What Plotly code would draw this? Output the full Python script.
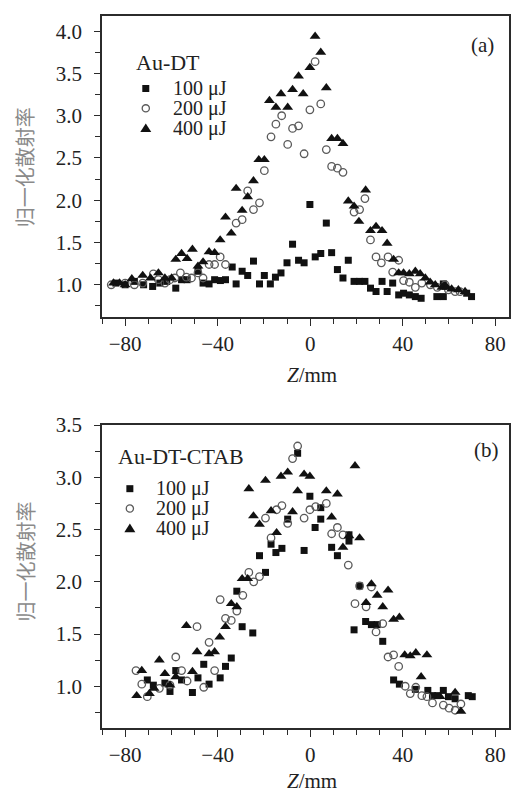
import plotly.graph_objects as go

# ---------------- Panel (a): Au-DT ----------------
a_x_100 = [-84, -80, -76, -72, -68.1, -65, -62, -58.1, -55.6, -53.2, -48.5, -46.3, -43.7, -41.3, -38.8,
           -36.6, -33.7, -32.0, -29.4, -27.0, -24.5, -21.9, -19.8, -17.2, -15.0, -12.6, -10.0, -7.6, -5.0,
           -2.6, -0.1, 2.2, 4.6, 7.0, 9.3, 11.8, 14.2, 16.5, 19.0, 21.4, 23.7, 26.1, 28.5, 31.1, 33.3, 35.7,
           38.3, 40.4, 42.9, 45.5, 48.0, 54.8, 57.6, 57.6, 67.7, 69.8]
a_y_100 = [1.02, 1.00, 1.04, 1.00, 0.98, 1.02, 1.04, 0.96, 1.06, 1.06, 1.16, 1.02, 1.01, 1.06, 1.05,
           1.06, 1.21, 1.01, 1.16, 1.11, 1.28, 1.01, 1.11, 1.01, 1.09, 1.14, 1.26, 1.48, 1.29,
           1.26, 1.95, 1.33, 1.37, 1.73, 1.38, 1.18, 1.08, 1.29, 1.04, 1.04, 1.04, 0.96, 0.92, 1.04, 0.92, 1.02,
           0.88, 0.90, 0.88, 0.86, 0.84, 0.86, 0.86, 1.01, 0.90, 0.86]

a_x_200 = [-86, -80, -76, -72.4, -67.8, -65.6, -62.8, -60.6, -58.5, -56.1, -53.5, -51.3, -48.5, -46.3,
           -43.7, -41.3, -38.9, -36.6, -32.0, -29.4, -27.0, -24.5, -21.9, -19.8, -16.9, -14.8, -12.3, -9.7,
           -7.6, -5.0, -2.6, -0.1, 2.15, 4.6, 7.0, 9.3, 11.8, 14.2, 19.0, 21.4, 23.7, 26.1, 28.5, 30.8,
           33.7, 35.7, 38.3, 40.4, 42.9, 45.5, 48.3, 52.0, 55.0, 58.4, 59.8, 62.7, 64.8]
a_y_200 = [1.00, 1.02, 1.00, 1.02, 1.13, 1.06, 1.02, 1.06, 1.08, 1.14, 1.09, 1.08, 1.14, 1.08,
           1.24, 1.24, 1.33, 1.24, 1.73, 1.77, 2.11, 1.89, 1.97, 2.35, 2.75, 2.90, 3.00, 2.66,
           2.85, 2.88, 2.55, 3.07, 3.64, 3.14, 2.60, 2.40, 2.38, 2.33, 1.86, 1.89, 2.02, 1.53, 1.33, 1.26,
           1.33, 1.15, 1.29, 1.05, 1.03, 0.97, 1.02, 1.00, 0.97, 1.00, 0.94, 0.92, 0.92]

a_x_400 = [-85, -82.4, -80, -77.1, -72.4, -69, -65.6, -62.8, -59.9, -58.1, -55.6, -53.2, -50.9, -48.5,
           -46.3, -43.7, -41.3, -38.9, -36.6, -34.1, -32.0, -29.4, -27.0, -24.5, -22.2, -19.8, -17.6,
           -14.8, -12.6, -9.7, -7.6, -5.0, -3.0, -0.1, 2.15, 4.6, 7.0, 9.3, 11.8, 14.2, 16.5, 19.0, 21.1,
           24.0, 26.1, 28.5, 31.1, 33.3, 36.1, 38.3, 40.4, 42.9, 45.5, 47.6, 49.8, 51.9, 54.1, 57.0,
           59.1, 61.2, 64.1, 67.0]
a_y_400 = [1.02, 1.02, 1.00, 1.07, 1.11, 1.08, 1.14, 1.08, 1.08, 1.30, 1.37, 1.31, 1.42, 1.22,
           1.27, 1.39, 1.38, 1.53, 1.80, 1.61, 2.14, 1.88, 2.04, 2.23, 2.48, 2.48, 3.18,
           3.10, 3.26, 3.10, 3.31, 3.47, 3.26, 3.57, 3.94, 3.75, 3.33, 2.73, 2.73, 2.67, 1.99, 1.93, 1.75,
           2.12, 1.64, 1.69, 1.64, 1.49, 1.30, 1.14, 1.14, 1.13, 1.16, 1.13, 1.08, 1.03, 1.00, 0.97,
           0.97, 0.95, 0.94, 0.92]

# ---------------- Panel (b): Au-DT-CTAB ----------------
b_x_100 = [-70.4, -67.8, -62.8, -60.6, -58.1, -55.6, -50.9, -48.5, -46.0, -43.7, -38.9, -36.6, -34.1,
           -31.7, -29.4, -24.8, -21.9, -19.3, -16.9, -14.8, -12.2, -9.7, -5.4, -2.6, -0.1, 2.15, 4.6,
           4.6, 9.3, 11.8, 16.8, 16.8, 19.0, 21.4, 24.0, 26.5, 29.0, 31.4, 36.1, 38.6, 45.5, 50.9, 52.9,
           55.2, 57.6, 59.8, 62.7, 68.4, 70.1]
b_y_100 = [1.06, 1.01, 1.03, 0.95, 1.15, 1.06, 0.94, 1.08, 1.21, 1.02, 1.08, 1.19, 1.27,
           1.91, 1.57, 1.51, 2.25, 2.09, 2.36, 2.28, 2.32, 2.60, 3.23, 2.30, 2.82, 2.52, 2.60,
           2.71, 2.33, 2.25, 2.45, 2.39, 1.54, 1.96, 1.62, 1.59, 1.59, 1.43, 1.06, 1.02, 0.97, 0.96, 0.91,
           0.91, 0.96, 0.90, 0.88, 0.91, 0.90]

b_x_200 = [-75.3, -72.8, -70.4, -65.2, -60.6, -58.1, -55.6, -53.2, -48.9, -46.0, -43.7, -41.3, -38.9,
           -36.6, -34.1, -31.7, -29.1, -26.5, -24.4, -21.9, -19.3, -16.9, -14.5, -12.2, -9.7, -7.6, -5.4,
           -2.6, -0.1, 2.4, 7.0, 9.3, 11.8, 14.2, 16.5, 19.4, 21.4, 24.2, 26.5, 28.5, 31.4, 33.7, 36.1,
           38.3, 41.1, 43.3, 45.7, 48.3, 50.5, 52.9, 57.6, 60.1, 62.7, 65.2]
b_y_200 = [1.15, 1.02, 0.90, 0.98, 1.01, 1.28, 1.15, 1.05, 1.57, 0.99, 1.42, 1.15, 1.83,
           1.65, 1.63, 1.72, 1.87, 2.09, 2.00, 2.05, 2.61, 2.42, 2.69, 2.73, 2.56, 3.18, 3.30,
           2.61, 2.69, 2.72, 2.75, 2.46, 2.52, 2.45, 2.16, 1.79, 1.96, 1.76, 1.95, 1.52, 1.60, 1.28, 1.30,
           1.19, 1.00, 0.93, 0.99, 0.91, 0.90, 0.84, 0.82, 0.79, 0.77, 0.83]

b_x_400 = [-75.0, -72.8, -69.5, -67.5, -65.2, -62.8, -60.6, -58.1, -53.5, -50.9, -48.9, -43.7, -41.3,
           -39.1, -36.6, -34.1, -31.7, -29.4, -27.0, -26.5, -24.5, -21.9, -19.3, -16.9, -14.5, -12.6,
           -9.7, -7.6, -5.4, -2.6, -0.1, 7.0, 9.3, 11.8, 14.2, 16.8, 19.4, 21.4, 24.2, 26.5, 29.0, 31.4,
           33.7, 36.1, 38.6, 40.9, 43.3, 45.7, 48.0, 50.5, 56.2, 62.7, 65.2]
b_y_400 = [0.91, 1.15, 0.93, 0.98, 1.25, 1.12, 1.01, 1.09, 1.58, 1.14, 1.33, 1.31, 1.33,
           1.47, 1.57, 1.79, 1.76, 2.03, 2.03, 2.89, 2.63, 2.55, 2.97, 2.68, 2.47, 3.01,
           3.05, 2.67, 2.87, 3.03, 3.01, 2.87, 2.62, 2.84, 2.33, 2.44, 3.11, 2.42, 1.80, 1.98, 1.87, 1.76,
           1.92, 1.64, 1.66, 1.30, 1.29, 1.32, 1.09, 1.30, 0.90, 0.94, 0.76]

series_names = ["100 μJ", "200 μJ", "400 μJ"]
title_a = "Au-DT"
title_b = "Au-DT-CTAB"
y_title = "归一化散射率"
x_title = "<i>Z</i>/mm"

SERIF = "Liberation Serif"
W, H = 515, 793
ML, MR, MT, MB = 102, 4, 11, 65
PW, PH = W - ML - MR, H - MT - MB


def px(xp):
    return (xp - ML) / PW


def py(yp):
    return (H - MB - yp) / PH


styles = [
    dict(symbol="square", size=7, color="#111111", line=dict(width=0)),
    dict(symbol="circle-open", size=7.5, color="#5a5a5a", line=dict(width=1.3, color="#5a5a5a")),
    dict(symbol="triangle-up", size=9.5, color="#111111", line=dict(width=0)),
]

fig = go.Figure()
panel_a = [(a_x_100, a_y_100), (a_x_200, a_y_200), (a_x_400, a_y_400)]
panel_b = [(b_x_100, b_y_100), (b_x_200, b_y_200), (b_x_400, b_y_400)]
for (xs, ys), st, nm in zip(panel_a, styles, series_names):
    fig.add_trace(go.Scatter(x=xs, y=ys, mode="markers", marker=st, name=nm,
                             xaxis="x", yaxis="y", showlegend=False))
for (xs, ys), st, nm in zip(panel_b, styles, series_names):
    fig.add_trace(go.Scatter(x=xs, y=ys, mode="markers", marker=st, name=nm,
                             xaxis="x2", yaxis="y2", showlegend=False))

axcol = "#2b2b2b"
tickfont = dict(family=SERIF, size=21, color="#222222")


def xcfg(anchor):
    return dict(range=[-90, 86], tickmode="linear", tick0=0, dtick=40, ticks="outside", ticklen=7,
                tickwidth=1.3, tickcolor=axcol, showline=True, linewidth=1.6, linecolor=axcol,
                mirror=True, showgrid=False, zeroline=False, tickfont=tickfont, anchor=anchor,
                minor=dict(dtick=10, tick0=0, ticks="outside", ticklen=5, tickwidth=1.2,
                           tickcolor=axcol, showgrid=False))


def ycfg(rng, dom, anchor):
    return dict(range=rng, domain=dom, tickmode="linear", tick0=0, dtick=0.5, tickformat=".1f",
                ticks="outside", ticklen=6, tickwidth=1.3, tickcolor=axcol, showline=True,
                linewidth=1.6, linecolor=axcol, mirror=True, showgrid=False, zeroline=False,
                tickfont=tickfont, anchor=anchor, ticklabelstandoff=8,
                minor=dict(dtick=0.25, tick0=0, ticks="outside", ticklen=5, tickwidth=1.2,
                           tickcolor=axcol, showgrid=False))


ann = []
shapes = []


def text(x, y, s, size=21, anchor="left", color="#222222", fam=SERIF, angle=0):
    ann.append(dict(x=px(x), y=py(y), xref="paper", yref="paper", text=s, showarrow=False,
                    xanchor=anchor, yanchor="middle", textangle=angle, borderpad=0,
                    font=dict(family=fam, size=size, color=color)))


def legend_markers(mx, ys):
    shapes.append(dict(type="rect", xref="paper", yref="paper", xsizemode="pixel", ysizemode="pixel",
                       xanchor=px(mx), yanchor=py(ys[0]), x0=-3.5, x1=3.5, y0=-3.5, y1=3.5,
                       fillcolor="#111111", line=dict(width=0)))
    shapes.append(dict(type="circle", xref="paper", yref="paper", xsizemode="pixel", ysizemode="pixel",
                       xanchor=px(mx), yanchor=py(ys[1]), x0=-3.6, x1=3.6, y0=-3.6, y1=3.6,
                       fillcolor="rgba(0,0,0,0)", line=dict(width=1.3, color="#5a5a5a")))
    shapes.append(dict(type="path", xref="paper", yref="paper", xsizemode="pixel", ysizemode="pixel",
                       xanchor=px(mx), yanchor=py(ys[2]), path="M -5.5,-3.8 L 5.5,-3.8 L 0,4.8 Z",
                       fillcolor="#111111", line=dict(width=0)))


LEG = 20
# panel (a) legend
text(135, 58, title_a, size=22)
rows_a = [84, 104, 124]
for yy, nm in zip(rows_a, series_names):
    text(172, yy, nm, size=LEG)
legend_markers(146, rows_a)
text(484, 40, "(a)", size=21, anchor="center")

# panel (b) legend
text(117, 455, title_b, size=22)
rows_b = [487, 507, 527]
for yy, nm in zip(rows_b, series_names):
    text(155, yy, nm, size=LEG)
legend_markers(130, rows_b)
text(488, 448, "(b)", size=21, anchor="center")

# axis titles
text(25, 163, y_title, size=20, anchor="center", color="#8a8a8a", fam="Noto Sans CJK SC", angle=-90)
text(25, 560, y_title, size=20, anchor="center", color="#8a8a8a", fam="Noto Sans CJK SC", angle=-90)
text(313, 373, x_title, size=21, anchor="center")
text(313, 781, x_title, size=21, anchor="center")

ya_dom = [py(314), 1.0]
yb_dom = [0.0, py(423)]

fig.update_layout(
    width=W, height=H, margin=dict(l=ML, r=MR, t=MT, b=MB),
    paper_bgcolor="white", plot_bgcolor="white", showlegend=False,
    xaxis=xcfg("y"), yaxis=ycfg([0.62, 4.18], ya_dom, "x"),
    xaxis2=xcfg("y2"), yaxis2=ycfg([0.6, 3.5], yb_dom, "x2"),
    annotations=ann, shapes=shapes,
)
fig.write_html("out.html", config={"displayModeBar": False},
               post_script="document.body.style.margin='0px';")
